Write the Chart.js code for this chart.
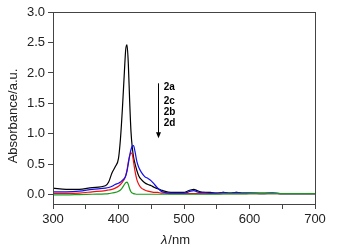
<!DOCTYPE html>
<html>
<head>
<meta charset="utf-8">
<script src="https://cdn.jsdelivr.net/npm/chart.js@4.4.1/dist/chart.umd.min.js"></script>
<style>
  html, body { margin: 0; padding: 0; background: #fff; }
  #wrap { width: 341px; height: 248px; position: relative; }
</style>
</head>
<body>
<div id="wrap"><canvas id="uvvis"></canvas></div>
<script>
///////////////////////////////
// data
///////////////////////////////
const wavelengths = [300, 320, 340, 360, 380, 385, 390, 395, 400, 403, 406, 409, 411, 413, 415, 417, 419, 421, 423, 425, 428, 431, 435, 440, 445, 450, 455, 460, 465, 470, 480, 490, 500, 505, 510, 515, 520, 525, 530, 540, 550, 560, 570, 580, 590, 600, 620, 635, 650, 675, 700];

const abs2a = [0.11, 0.09, 0.09, 0.12, 0.15, 0.21, 0.36, 0.46, 0.60, 0.92, 1.42, 2.02, 2.38, 2.46, 2.15, 1.55, 1.05, 0.78, 0.62, 0.52, 0.40, 0.31, 0.25, 0.20, 0.17, 0.15, 0.12, 0.10, 0.08, 0.06, 0.04, 0.04, 0.04, 0.06, 0.08, 0.09, 0.07, 0.05, 0.04, 0.04, 0.03, 0.04, 0.03, 0.04, 0.03, 0.03, 0.03, 0.03, 0.02, 0.02, 0.02];
const abs2c = [0.05, 0.05, 0.06, 0.09, 0.11, 0.12, 0.14, 0.17, 0.19, 0.21, 0.24, 0.27, 0.31, 0.39, 0.51, 0.64, 0.74, 0.80, 0.81, 0.72, 0.55, 0.45, 0.37, 0.30, 0.27, 0.23, 0.17, 0.11, 0.06, 0.04, 0.03, 0.03, 0.03, 0.04, 0.06, 0.07, 0.05, 0.04, 0.04, 0.03, 0.03, 0.04, 0.03, 0.04, 0.03, 0.03, 0.02, 0.03, 0.02, 0.02, 0.02];
const abs2b = [0.025, 0.025, 0.03, 0.05, 0.07, 0.08, 0.09, 0.11, 0.14, 0.17, 0.21, 0.26, 0.32, 0.41, 0.54, 0.64, 0.69, 0.67, 0.54, 0.40, 0.25, 0.17, 0.11, 0.08, 0.06, 0.05, 0.04, 0.04, 0.03, 0.03, 0.02, 0.02, 0.02, 0.02, 0.02, 0.02, 0.02, 0.02, 0.02, 0.02, 0.02, 0.02, 0.02, 0.02, 0.02, 0.02, 0.02, 0.02, 0.02, 0.02, 0.02];
const abs2d = [0.0, 0.0, 0.005, 0.01, 0.015, 0.02, 0.03, 0.04, 0.06, 0.08, 0.12, 0.17, 0.20, 0.21, 0.17, 0.10, 0.05, 0.03, 0.02, 0.015, 0.01, 0.01, 0.01, 0.01, 0.01, 0.01, 0.01, 0.01, 0.01, 0.01, 0.01, 0.01, 0.01, 0.01, 0.01, 0.01, 0.01, 0.01, 0.01, 0.01, 0.01, 0.015, 0.015, 0.015, 0.015, 0.02, 0.02, 0.02, 0.02, 0.02, 0.02];

const seriesNames = ['2a', '2c', '2b', '2d'];

const xTickValues = [300, 350, 400, 450, 500, 550, 600, 650, 700];
const xLabelValues = [300, 400, 500, 600, 700];
const yTickValues = [0, 0.25, 0.5, 0.75, 1.0, 1.25, 1.5, 1.75, 2.0, 2.25, 2.5, 2.75, 3.0];
const yLabelValues = [0, 0.5, 1.0, 1.5, 2.0, 2.5, 3.0];

const FONT = '"Liberation Sans", Arial, sans-serif';
const INK = '#222';

function toPoints(values) {
    return wavelengths.map((w, i) => ({ x: w, y: values[i] }));
}

function spectrum(label, values, color, order) {
    return {
        label: label,
        data: toPoints(values),
        borderColor: color,
        borderWidth: 1.2,
        pointRadius: 0,
        fill: false,
        cubicInterpolationMode: 'monotone',
        order: order
    };
}

// box, arrow with labels and the axis titles
const decorations = {
    id: 'decorations',
    afterDatasetsDraw(chart) {
        const ctx = chart.ctx;
        const a = chart.chartArea;
        const xs = chart.scales.x;
        const ys = chart.scales.y;

        ctx.save();
        ctx.strokeStyle = '#444';
        ctx.lineWidth = 1;
        ctx.strokeRect(a.left + 0.5, a.top + 0.5, a.right - a.left, a.bottom - a.top);

        // arrow
        const ax = Math.round(xs.getPixelForValue(460)) + 0.5;
        const y0 = ys.getPixelForValue(1.83);
        const y1 = ys.getPixelForValue(0.93);
        ctx.strokeStyle = '#000';
        ctx.beginPath();
        ctx.moveTo(ax, y0);
        ctx.lineTo(ax, y1 - 4);
        ctx.stroke();
        ctx.fillStyle = '#000';
        ctx.beginPath();
        ctx.moveTo(ax - 2.5, y1 - 6);
        ctx.lineTo(ax + 2.5, y1 - 6);
        ctx.lineTo(ax, y1);
        ctx.closePath();
        ctx.fill();

        // series names beside the arrow
        ctx.font = 'bold 10px ' + FONT;
        ctx.textAlign = 'left';
        ctx.textBaseline = 'middle';
        const labelY = [1.77, 1.54, 1.36, 1.18];
        seriesNames.forEach((name, i) => {
            ctx.fillText(name, xs.getPixelForValue(469), ys.getPixelForValue(labelY[i]));
        });

        // x title with italic lambda
        ctx.fillStyle = INK;
        ctx.textBaseline = 'middle';
        ctx.font = 'italic 13px ' + FONT;
        const lam = '\u03BB';
        const rest = '/nm';
        const w1 = ctx.measureText(lam).width;
        ctx.font = '13px ' + FONT;
        const w2 = ctx.measureText(rest).width;
        const cx = 175 - (w1 + w2) / 2;
        ctx.font = 'italic 13px ' + FONT;
        ctx.fillText(lam, cx, 240);
        ctx.font = '13px ' + FONT;
        ctx.fillText(rest, cx + w1 + 1, 240);

        // y title
        ctx.translate(13, 116);
        ctx.rotate(-Math.PI / 2);
        ctx.textAlign = 'center';
        ctx.fillText('Absorbance/a.u.', 0, 0);
        ctx.restore();
    }
};

let ctx = document.getElementById('uvvis');
let chart = new Chart(ctx, {
    type: 'line',
    data: {
        datasets: [
            spectrum(seriesNames[3], abs2d, '#1a9a1a', 0),
            spectrum(seriesNames[1], abs2c, '#1010ee', 1),
            spectrum(seriesNames[2], abs2b, '#ee1010', 2),
            spectrum(seriesNames[0], abs2a, '#000000', 3)
        ]
    },
    options: {
        responsive: true,
        maintainAspectRatio: false,
        animation: false,
        layout: { padding: { top: 12, right: 26, left: 0, bottom: 0 } },
        plugins: {
            legend: { display: false },
            tooltip: { enabled: false }
        },
        scales: {
            x: {
                type: 'linear',
                min: 300,
                max: 700,
                afterBuildTicks: (s) => { s.ticks = xTickValues.map(v => ({ value: v })); },
                afterFit: (s) => { s.height = 44; },
                grid: { drawOnChartArea: false, tickLength: 5, tickColor: '#444' },
                border: { color: '#444' },
                ticks: {
                    padding: 3,
                    color: INK,
                    font: { family: FONT, size: 13 },
                    maxRotation: 0,
                    callback: (v) => xLabelValues.includes(v) ? String(v) : ''
                }
            },
            y: {
                type: 'linear',
                min: -0.15,
                max: 3.0,
                afterBuildTicks: (s) => { s.ticks = yTickValues.map(v => ({ value: v })); },
                afterFit: (s) => { s.width = 53; },
                grid: { drawOnChartArea: false, tickLength: 5, tickColor: '#444' },
                border: { color: '#444' },
                ticks: {
                    padding: 3,
                    color: INK,
                    font: { family: FONT, size: 13 },
                    callback: (v) => yLabelValues.includes(v) ? v.toFixed(1) : ''
                }
            }
        }
    },
    plugins: [decorations]
});
</script>
</body>
</html>
